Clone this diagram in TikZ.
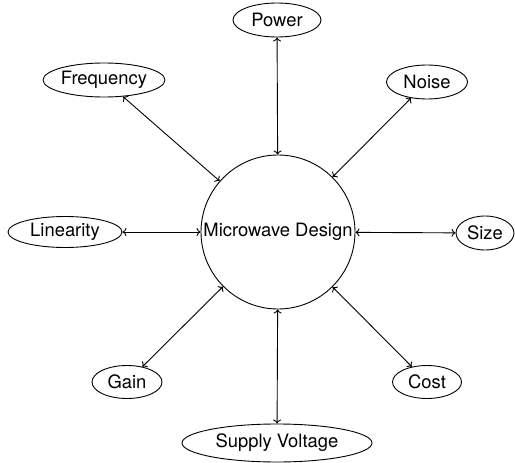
\documentclass[tikz,border=0pt]{standalone}
\usepackage{fontspec}
\setmainfont{TeX Gyre Heros}
\usepackage{tikz}
\usetikzlibrary{arrows.meta,shapes.geometric}

\begin{document}
\begin{tikzpicture}[x=1pt,y=-1pt,line width=0.9pt,
  every node/.style={font=\fontsize{18.4}{22}\selectfont},
  bubble/.style={draw,ellipse,inner sep=0pt},
  hub/.style={draw,circle,minimum size=154pt,inner sep=0pt},
  link/.style={{To[length=4pt,width=8pt]}-{To[length=4pt,width=8pt]}}]
\useasboundingbox (0,0) rectangle (515,463);
\node[hub] (design) at (278,232) {Microwave Design};
\node[bubble,minimum width=88pt,minimum height=34pt] (power) at (277,20) {Power};
\node[bubble,minimum width=94pt,minimum height=34pt] (frequency) at (104,80) {Frequency};
\node[bubble,minimum width=81pt,minimum height=34pt] (noise) at (427,82) {Noise};
\node[bubble,minimum width=114pt,minimum height=31pt] (linearity) at (65,232) {Linearity};
\node[bubble,minimum width=58pt,minimum height=34pt] (size) at (485,233) {Size};
\node[bubble,minimum width=70pt,minimum height=33pt] (gain) at (127,382) {Gain};
\node[bubble,minimum width=69pt,minimum height=33pt] (cost) at (427,382) {Cost};
\node[bubble,minimum width=190pt,minimum height=38pt] (voltage) at (277,443) {Supply Voltage};
\foreach \n in {power,frequency,noise,linearity,size,gain,cost,voltage}
  \draw[link] (design) -- (\n);
\end{tikzpicture}
\end{document}
